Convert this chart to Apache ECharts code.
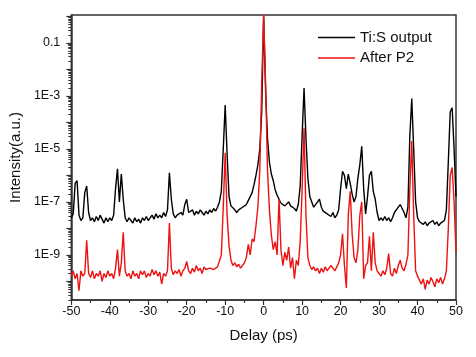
<!DOCTYPE html>
<html>
<head>
<meta charset="utf-8">
<script src="https://cdn.jsdelivr.net/npm/echarts@6/dist/echarts.min.js"></script>
<style>
html,body{margin:0;padding:0;background:#fff;}
#chart{width:476px;height:357px;}
</style>
</head>
<body>
<div id="chart"></div>
<script>
// Delay grid (ps): -50 .. 50, step 0.5
const delays = [];
for (let i = 0; i <= 200; i++) delays.push(-50 + i * 0.5);

// log10(intensity), one value per delay
const tisOutputExp = [
  -7.6,-7.45,-6.3,-6.2,-7.5,-7.7,-7.6,-6.65,-6.4,-7.4,
  -7.7,-7.6,-7.75,-7.55,-7.7,-7.5,-7.65,-7.8,-7.6,-7.75,
  -7.6,-7.7,-7.5,-6.5,-5.75,-7.0,-5.95,-6.9,-7.6,-7.75,
  -7.6,-7.7,-7.8,-7.6,-7.75,-7.65,-7.8,-7.6,-7.7,-7.55,
  -7.7,-7.6,-7.5,-7.65,-7.45,-7.6,-7.5,-7.6,-7.4,-7.55,
  -7.3,-5.9,-6.9,-7.45,-7.6,-7.5,-7.55,-7.4,-7.5,-7.1,
  -6.9,-7.4,-7.45,-7.3,-7.5,-7.35,-7.45,-7.3,-7.4,-7.5,
  -7.35,-7.45,-7.3,-7.4,-7.25,-7.35,-7.2,-7.0,-6.6,-5.0,
  -3.35,-5.2,-6.8,-7.15,-7.2,-7.3,-7.4,-7.3,-7.35,-7.2,
  -7.25,-7.1,-6.95,-6.9,-6.65,-6.35,-6.0,-5.6,-5.0,-3.6,
  0.0,-2.8,-4.6,-5.5,-5.95,-6.2,-6.55,-6.75,-6.9,-7.05,
  -7.0,-7.15,-7.1,-7.0,-7.15,-7.1,-7.25,-7.35,-7.1,-6.4,
  -4.5,-2.7,-4.6,-6.1,-6.8,-7.0,-7.2,-7.1,-7.0,-6.9,
  -7.2,-7.35,-7.3,-7.45,-7.5,-7.55,-7.4,-7.6,-7.5,-7.3,
  -6.5,-5.85,-6.0,-6.5,-5.95,-6.3,-6.7,-7.0,-6.8,-6.1,
  -5.6,-4.9,-6.5,-7.45,-6.8,-6.0,-5.85,-6.6,-6.9,-7.4,
  -7.7,-7.6,-7.7,-7.55,-7.7,-7.6,-7.75,-7.6,-7.4,-7.45,
  -7.2,-7.1,-7.15,-7.4,-7.6,-7.2,-4.5,-3.1,-5.0,-7.0,
  -7.6,-7.75,-7.7,-7.85,-7.75,-7.9,-7.8,-7.85,-7.7,-7.85,
  -7.75,-7.9,-7.8,-7.85,-7.7,-7.3,-5.5,-3.6,-3.45,-5.0,
  -6.8
];
const afterP2Exp = [
  -9.8,-9.6,-9.9,-9.7,-10.35,-9.6,-9.8,-9.7,-8.45,-9.7,
  -9.85,-9.6,-9.9,-9.7,-9.8,-9.6,-10.0,-9.7,-9.85,-9.6,
  -9.8,-9.7,-9.9,-9.5,-8.8,-9.8,-9.3,-8.15,-9.6,-9.8,
  -9.7,-9.9,-9.6,-9.8,-9.7,-9.9,-9.6,-9.75,-9.6,-9.85,
  -9.7,-9.8,-9.55,-9.75,-9.6,-9.8,-9.65,-10.1,-9.7,-9.8,
  -9.6,-7.8,-9.5,-9.75,-9.6,-9.7,-9.55,-9.8,-9.6,-9.5,
  -9.25,-9.6,-9.7,-9.5,-9.65,-9.4,-9.6,-9.5,-9.7,-9.45,
  -9.55,-9.6,-9.5,-9.45,-9.55,-9.5,-9.45,-9.4,-9.0,-7.2,
  -5.15,-7.5,-8.65,-9.2,-9.4,-9.3,-9.45,-9.35,-9.5,-9.4,
  -9.3,-9.1,-8.6,-9.0,-8.4,-8.5,-7.9,-7.2,-5.8,-2.5,
  0.05,-2.5,-5.8,-7.3,-8.25,-8.8,-8.5,-9.0,-6.9,-8.8,
  -9.4,-8.9,-9.2,-8.7,-9.5,-9.1,-9.9,-9.2,-9.4,-8.5,
  -6.5,-4.2,-7.5,-9.1,-9.4,-9.55,-9.45,-9.6,-9.5,-9.7,
  -9.5,-9.65,-9.45,-9.6,-9.5,-9.4,-9.5,-9.6,-9.45,-9.3,
  -9.0,-8.2,-9.4,-10.25,-7.5,-6.6,-8.2,-9.1,-9.3,-8.8,
  -7.5,-7.0,-9.9,-9.4,-9.3,-8.3,-9.6,-8.15,-9.3,-9.6,
  -9.7,-9.8,-9.6,-9.75,-9.5,-8.95,-9.7,-9.8,-9.5,-9.7,
  -9.4,-9.2,-9.5,-9.6,-9.35,-9.0,-6.5,-4.7,-7.5,-9.6,
  -9.8,-9.95,-10.1,-9.9,-10.3,-9.95,-10.1,-9.85,-10.0,-10.2,
  -9.9,-10.05,-9.85,-10.1,-9.9,-9.6,-8.0,-6.0,-5.7,-7.0,
  -8.9
];

// Axis ticks (log10 units) and labels
const yMajorTicks = [-10,-9,-8,-7,-6,-5,-4,-3,-2,-1,0];
const yLabelTicks = [-9,-7,-5,-3,-1];
const yLabelText = {'-9':'1E-9','-7':'1E-7','-5':'1E-5','-3':'1E-3','-1':'0.1'};

const Y_MIN = -10.7, Y_MAX = 0.05;
const yMinorTicks = [];
for (let n = -11; n <= 0; n++) {
  for (let k = 2; k <= 9; k++) {
    const v = n + Math.log10(k);
    if (v > Y_MIN && v < Y_MAX) yMinorTicks.push(v);
  }
}

const font = 'Liberation Sans, Arial, sans-serif';
const axisColor = '#333';
const black = '#000';
const red = '#ee1111';

const chart = echarts.init(document.getElementById('chart'), null, {renderer:'canvas'});
chart.setOption({
  animation: false,
  backgroundColor: '#fff',
  grid: {left: 67, right: 20, top: 15, bottom: 57, show: true, borderColor: axisColor, borderWidth: 1.5, backgroundColor: 'transparent'},
  legend: {
    orient: 'vertical', left: 313, top: 25,
    icon: 'rect', itemWidth: 37, itemHeight: 1.5, itemGap: 5.5,
    textStyle: {fontFamily: font, fontSize: 15, color: '#111'},
    data: [
      {name: 'Ti:S output', itemStyle: {color: black}},
      {name: 'After P2', itemStyle: {color: red}}
    ]
  },
  xAxis: {
    type: 'value', min: -50, max: 50, interval: 10,
    name: 'Delay (ps)', nameLocation: 'middle', nameGap: 28,
    nameTextStyle: {fontFamily: font, fontSize: 15, color: '#111'},
    axisLine: {onZero: false, lineStyle: {color: axisColor, width: 1.5}},
    axisTick: {inside: false, length: 5, lineStyle: {color: axisColor, width: 1.2}},
    minorTick: {show: true, splitNumber: 2, length: 3, lineStyle: {color: axisColor, width: 1.2}},
    axisLabel: {fontFamily: font, fontSize: 12.5, color: '#111', margin: 5},
    splitLine: {show: false}
  },
  yAxis: [{
    type: 'value', min: Y_MIN, max: Y_MAX, position: 'left',
    name: 'Intensity(a.u.)', nameLocation: 'middle', nameGap: 46,
    nameTextStyle: {fontFamily: font, fontSize: 15, color: '#111'},
    axisLine: {onZero: false, lineStyle: {color: axisColor, width: 1.5}},
    axisTick: {inside: false, length: 5, customValues: yMajorTicks, lineStyle: {color: axisColor, width: 1.2}},
    axisLabel: {fontFamily: font, fontSize: 12.5, color: '#111', margin: 11,
      customValues: yLabelTicks,
      formatter: v => yLabelText[String(Math.round(v))] || ''},
    splitLine: {show: false}
  }, {
    type: 'value', min: Y_MIN, max: Y_MAX, position: 'left', offset: 0,
    axisLine: {show: false, onZero: false},
    axisTick: {show: true, inside: false, length: 3, customValues: yMinorTicks, lineStyle: {color: axisColor, width: 1}},
    axisLabel: {show: false},
    splitLine: {show: false}
  }],
  series: [{
    name: 'Ti:S output', type: 'line', symbol: 'none', yAxisIndex: 0,
    lineStyle: {color: black, width: 1.4},
    itemStyle: {color: black},
    data: delays.map((t, i) => [t, tisOutputExp[i]])
  }, {
    name: 'After P2', type: 'line', symbol: 'none', yAxisIndex: 0,
    lineStyle: {color: red, width: 1.4},
    itemStyle: {color: red},
    data: delays.map((t, i) => [t, afterP2Exp[i]])
  }]
});
</script>
</body>
</html>
